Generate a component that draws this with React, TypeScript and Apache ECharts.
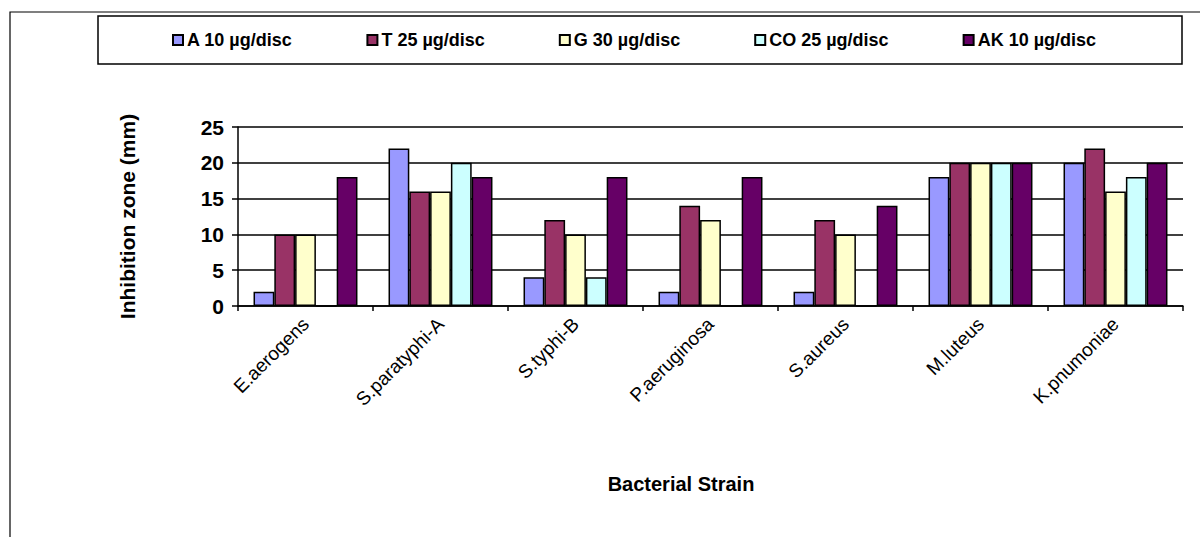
import React, { useEffect, useRef } from "react";
import * as echarts from "echarts";

const categories = ["E.aerogens", "S.paratyphi-A", "S.typhi-B", "P.aeruginosa", "S.aureus", "M.luteus", "K.pnumoniae"];
const seriesNames = ["A 10 µg/disc", "T 25 µg/disc", "G 30 µg/disc", "CO 25 µg/disc", "AK 10 µg/disc"];
const seriesA = [2, 22, 4, 2, 2, 18, 20];
const seriesT = [10, 16, 12, 14, 12, 20, 22];
const seriesG = [10, 16, 10, 12, 10, 20, 16];
const seriesCO = [0, 20, 4, 0, 0, 20, 18];
const seriesAK = [18, 18, 18, 18, 14, 20, 20];
const colors = ["#9999FF", "#993366", "#FFFFCC", "#CCFFFF", "#660066"];
const yTicks = [0, 5, 10, 15, 20, 25];
const xTitle = "Bacterial Strain";
const yTitle = "Inhibition zone (mm)";

export default function App() {
  const ref = useRef<HTMLDivElement>(null);
  useEffect(() => {
    document.body.style.margin = "0";
    const chart = echarts.init(ref.current!, null, { renderer: "svg" });
    const data = [seriesA, seriesT, seriesG, seriesCO, seriesAK];
    const font = "'Liberation Sans', Arial, sans-serif";
    chart.setOption({
      animation: false,
      backgroundColor: "#ffffff",
      textStyle: { fontFamily: font },
      graphic: [
        {
          type: "rect",
          shape: { x: 10, y: 12, width: 1400, height: 700 },
          style: { fill: "none", stroke: "#000", lineWidth: 1.2 },
          silent: true,
          z: -1,
        },
        {
          type: "rect",
          shape: { x: 98, y: 16, width: 1084, height: 48 },
          style: { fill: "none", stroke: "#000", lineWidth: 1.5 },
          silent: true,
          z: -1,
        },
        {
          type: "text",
          x: 681,
          y: 484,
          style: {
            text: xTitle,
            fontFamily: font,
            fontSize: 20,
            fontWeight: "bold",
            fill: "#000",
            align: "center",
            verticalAlign: "middle",
          },
          silent: true,
        },
      ],
      legend: {
        top: 31,
        left: 172,
        padding: 0,
        itemWidth: 10,
        itemHeight: 10,
        itemGap: 74,
        icon: "rect",
        data: seriesNames,
        textStyle: { fontFamily: font, fontSize: 18, fontWeight: "bold", color: "#000", padding: [0, 0, 0, -1] },
      },
      grid: { left: 238, right: 17, top: 127, bottom: 231, containLabel: false },
      xAxis: {
        type: "category",
        data: categories,
        axisLine: { lineStyle: { color: "#000", width: 1.5 } },
        axisTick: { show: true, alignWithLabel: false, length: 5, lineStyle: { color: "#000", width: 1.5 } },
        axisLabel: { rotate: 45, fontSize: 19, color: "#000", fontFamily: font, margin: 15 },
      },
      yAxis: {
        type: "value",
        min: 0,
        max: 25,
        interval: 5,
        name: yTitle,
        nameLocation: "middle",
        nameGap: 100,
        nameRotate: 90,
        nameTextStyle: { fontFamily: font, fontSize: 21, fontWeight: "bold", color: "#000" },
        axisLine: { show: true, lineStyle: { color: "#000", width: 1.5 } },
        axisTick: { show: true, length: 6, lineStyle: { color: "#000", width: 1.5 } },
        axisLabel: {
          fontSize: 21,
          fontWeight: "bold",
          color: "#000",
          fontFamily: font,
          margin: 14,
          formatter: (v: number) => (yTicks.includes(v) ? String(v) : ""),
        },
        splitLine: { show: true, lineStyle: { color: "#000", width: 1.5 } },
      },
      series: seriesNames.map((name, i) => ({
        name,
        type: "bar",
        data: data[i],
        barGap: "0%",
        barCategoryGap: "23%",
        itemStyle: { color: colors[i], borderColor: "#000", borderWidth: 1.5 },
      })),
    });
    return () => chart.dispose();
  }, []);
  return <div ref={ref} style={{ width: 1200, height: 537 }} />;
}
